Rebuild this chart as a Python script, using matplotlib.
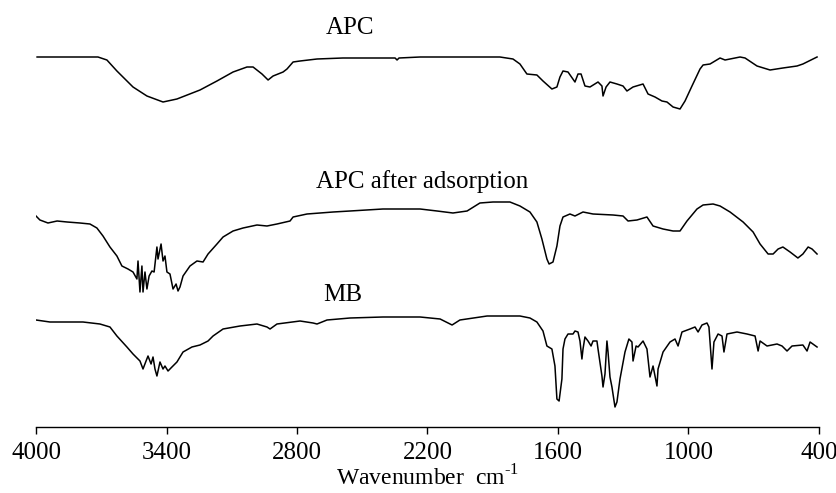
import matplotlib
matplotlib.use("Agg")
import matplotlib.pyplot as plt

plt.rcParams['font.family'] = ['Liberation Serif', 'DejaVu Serif']
plt.rcParams['mathtext.fontset'] = 'custom'
plt.rcParams['mathtext.rm'] = 'Liberation Serif'

# APC spectrum (wavenumber, transmittance in arbitrary units)
apc_wn = [3995, 3715, 3674, 3628, 3554, 3490, 3416, 3352, 3246, 3168, 3094, 3030, 3002, 2961,
          2933, 2910, 2864, 2846, 2818, 2786, 2708, 2589, 2349, 2340, 2331, 2234, 1867, 1807,
          1775, 1743, 1697, 1669, 1628, 1605, 1591, 1577, 1554, 1522, 1508, 1494, 1476, 1453,
          1416, 1398, 1393, 1379, 1361, 1329, 1301, 1283, 1255, 1209, 1186, 1154, 1122, 1099,
          1071, 1039, 1016, 984, 947, 933, 901, 855, 832, 763, 740, 685, 625, 566, 501, 474, 409]
apc_t = [370, 370, 367, 356, 340, 331, 325, 328, 337, 346, 355, 360, 360, 353,
         347, 351, 355, 358, 365, 366, 368, 369, 369, 367, 369, 370, 370, 368,
         363, 353, 352, 346, 338, 340, 350, 356, 355, 345, 353, 353, 341, 340,
         345, 341, 331, 340, 345, 343, 341, 336, 340, 343, 333, 330, 326, 325,
         320, 318, 326, 341, 358, 362, 363, 369, 367, 370, 369, 361, 357, 359, 361, 363, 370]

# APC after adsorption
ads_wn = [4000, 3982, 3945, 3903, 3857, 3798, 3752, 3720, 3692, 3660, 3628, 3605, 3577, 3554,
          3536, 3531, 3522, 3513, 3508, 3499, 3490, 3480, 3467, 3457, 3444, 3439, 3425, 3416,
          3407, 3398, 3384, 3370, 3356, 3347, 3338, 3324, 3292, 3260, 3232, 3209, 3168, 3140,
          3094, 3048, 2984, 2938, 2892, 2832, 2818, 2754, 2694, 2634, 2556, 2405, 2234, 2156,
          2083, 2018, 1959, 1899, 1821, 1775, 1729, 1697, 1674, 1651, 1641, 1623, 1605, 1591,
          1577, 1545, 1522, 1485, 1439, 1347, 1301, 1278, 1237, 1191, 1163, 1117, 1071, 1039,
          1007, 961, 933, 887, 855, 809, 749, 703, 671, 634, 611, 588, 566, 533, 497, 474,
          450, 432, 409]
ads_t = [211, 207, 204, 206, 205, 204, 203, 199, 191, 180, 171, 161, 158, 155,
         148, 166, 135, 161, 135, 155, 138, 151, 156, 155, 180, 168, 183, 166,
         171, 155, 153, 138, 143, 136, 140, 151, 161, 166, 165, 173, 183, 190,
         196, 199, 202, 201, 203, 206, 210, 213, 214, 215, 216, 218, 218, 216,
         214, 216, 224, 225, 225, 221, 215, 205, 188, 168, 163, 165, 181, 201,
         210, 213, 211, 215, 213, 212, 211, 206, 207, 210, 201, 198, 196, 196,
         206, 218, 222, 223, 221, 215, 205, 195, 183, 173, 173, 178, 180, 175, 169, 173,
         180, 178, 173]

# MB
mb_wn = [4000, 3936, 3857, 3784, 3706, 3660, 3628, 3582, 3554, 3522, 3508, 3494, 3485, 3471,
         3462, 3453, 3444, 3430, 3416, 3407, 3393, 3375, 3352, 3324, 3283, 3246, 3209, 3186,
         3140, 3062, 2984, 2938, 2924, 2892, 2786, 2726, 2708, 2662, 2556, 2405, 2234, 2142,
         2087, 2051, 1926, 1775, 1729, 1697, 1669, 1651, 1628, 1614, 1605, 1595, 1582, 1577,
         1568, 1554, 1531, 1522, 1508, 1499, 1490, 1485, 1476, 1462, 1448, 1439, 1421, 1416,
         1398, 1393, 1384, 1375, 1370, 1361, 1352, 1338, 1329, 1315, 1292, 1274, 1260, 1255,
         1241, 1232, 1209, 1191, 1177, 1163, 1145, 1140, 1117, 1085, 1062, 1048, 1030, 993,
         970, 956, 938, 915, 906, 892, 883, 864, 846, 837, 823, 777, 731, 694, 680, 671,
         639, 593, 570, 547, 524, 474, 455, 441, 409]
mb_t = [107, 105, 105, 105, 103, 100, 91, 80, 73, 66, 58, 66, 71, 63,
        70, 58, 51, 65, 58, 61, 56, 60, 65, 75, 80, 82, 86, 91,
        98, 101, 103, 100, 98, 103, 106, 104, 103, 107, 109, 110, 110, 108,
        102, 107, 111, 111, 109, 105, 96, 81, 78, 61, 28, 26, 48, 78,
        88, 93, 93, 96, 95, 86, 68, 78, 90, 86, 81, 86, 86, 78,
        51, 40, 53, 86, 75, 50, 40, 20, 25, 48, 75, 88, 85, 66,
        81, 80, 86, 78, 50, 61, 41, 58, 75, 85, 88, 81, 95, 98,
        100, 95, 102, 104, 100, 58, 85, 93, 91, 75, 93, 95, 93, 91, 76, 86,
        81, 83, 81, 76, 81, 82, 76, 85, 80]

tick_pos = [4000, 3400, 2800, 2200, 1600, 1000, 400]

fig = plt.figure(figsize=(8.37, 4.93), dpi=100)
ax = fig.add_axes([36 / 837, 66 / 493, 783 / 837, 427 / 493])

ax.plot(apc_wn, apc_t, color='black', linewidth=1.1)
ax.plot(ads_wn, ads_t, color='black', linewidth=1.1)
ax.plot(mb_wn, mb_t, color='black', linewidth=1.1)

ax.text(2556, 399, 'APC', fontsize=18, ha='center', va='center')
ax.text(2225, 245, 'APC after adsorption', fontsize=18, ha='center', va='center')
ax.text(2588, 132, 'MB', fontsize=18, ha='center', va='center')

ax.set_xlim(4000, 400)
ax.set_ylim(0, 427)
ax.set_xticks(tick_pos)
ax.set_xticklabels([str(t) for t in tick_pos], fontsize=18)
ax.set_yticks([])
ax.tick_params(axis='x', direction='out', length=5, width=1, pad=6)
ax.set_xlabel('Wavenumber  cm$^{\\text{-1}}$', fontsize=17, labelpad=1)

for s in ['top', 'right', 'left']:
    ax.spines[s].set_visible(False)
ax.spines['bottom'].set_linewidth(1)

fig.savefig('out.png', dpi=100)
